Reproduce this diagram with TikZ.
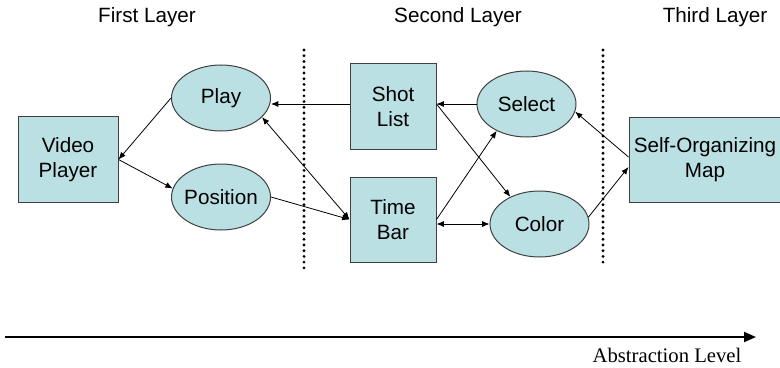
\documentclass[tikz,border=0pt]{standalone}
\usepackage{fontspec}
\setmainfont{Liberation Sans}
\newfontfamily\timesfont{Liberation Serif}
\usetikzlibrary{shapes.geometric,arrows.meta}
\definecolor{boxfill}{RGB}{187,224,227}
\newcommand\nodefont{\fontsize{15.5pt}{18.75pt}\selectfont}
\begin{document}
\begin{tikzpicture}[x=0.75pt,y=-0.75pt,
  box/.style={draw=black!75, fill=boxfill, line width=0.75pt, align=center, inner sep=0pt, font=\nodefont},
  oval/.style={ellipse, draw=black!75, fill=boxfill, line width=0.75pt, inner sep=0pt,
    minimum width=74.25pt, minimum height=49.5pt, font=\nodefont,
    execute at begin node=\hbox to 0pt\bgroup\hss, execute at end node=\hss\egroup},
  link/.style={-{Latex[length=5.5pt,width=4.5pt]}, line width=0.6pt},
  dlink/.style={{Latex[length=5.5pt,width=4.5pt]}-{Latex[length=5.5pt,width=4.5pt]}, line width=0.6pt},
  dotline/.style={line width=2.4pt, dash pattern=on 0pt off 4.3pt, line cap=round},
  head/.style={font=\nodefont, inner sep=0pt}]
\useasboundingbox (0,0) rectangle (780,367);

% headings
\node[head] (h1) at (147,17.5) {First Layer};
\node[head] (h2) at (458,17.5) {Second Layer};
\node[head] (h3) at (715,17.5) {Third Layer};

% dotted separators
\coordinate (d1a) at (304,50);
\coordinate (d1b) at (304,269);
\coordinate (d2a) at (603,50);
\coordinate (d2b) at (603,263);
\draw[dotline] (d1a) -- (d1b);
\draw[dotline] (d2a) -- (d2b);

% nodes
\node[box, minimum width=75pt, minimum height=63.75pt] (vp) at (68,159.5) {Video\\Player};
\node[oval] (play) at (221,98) {Play};
\node[oval] (pos) at (221,197) {Position};
\node[box, minimum width=64.5pt, minimum height=63.75pt] (sl) at (393,106.5) {Shot\\List};
\node[box, minimum width=64.5pt, minimum height=63.75pt] (tb) at (393,219.5) {Time\\Bar};
\node[oval] (sel) at (526.5,104) {Select};
\node[oval] (col) at (539.5,224) {Color};
\node[box, minimum width=114pt, minimum height=63pt] (som) at (705,160) {Self-Organizing\\Map};

% connectors
\draw[link] (play.west) -- (vp.east);
\draw[link] (vp.east) -- (pos.170);
\draw[link] (sl.west |- sel.west) -- (play.east |- sel.west);
\draw[dlink] (play.-25) -- (tb.west);
\draw[link] (pos.east) -- (tb.west);
\draw[link] (sel.west) -- (sl.east |- sel.west);
\draw[link] (sl.east |- sel.west) -- (col.137);
\draw[link] (tb.east) -- (sel.222);
\draw[dlink] (tb.east |- col.west) -- (col.west);
\draw[link] ([yshift=2.25pt]som.west) -- (sel.-9);
\draw[link] (col.8) -- ([yshift=-5.25pt]som.west);

% abstraction axis
\coordinate (axa) at (5,337);
\coordinate (axb) at (756,337);
\draw[line width=1.5pt, -{Triangle[length=9pt,width=7.5pt]}] (axa) -- (axb);
\node[font=\timesfont\fontsize{15.5pt}{18pt}\selectfont, inner sep=0pt] (abs) at (667,355) {Abstraction Level};
\end{tikzpicture}
\end{document}
